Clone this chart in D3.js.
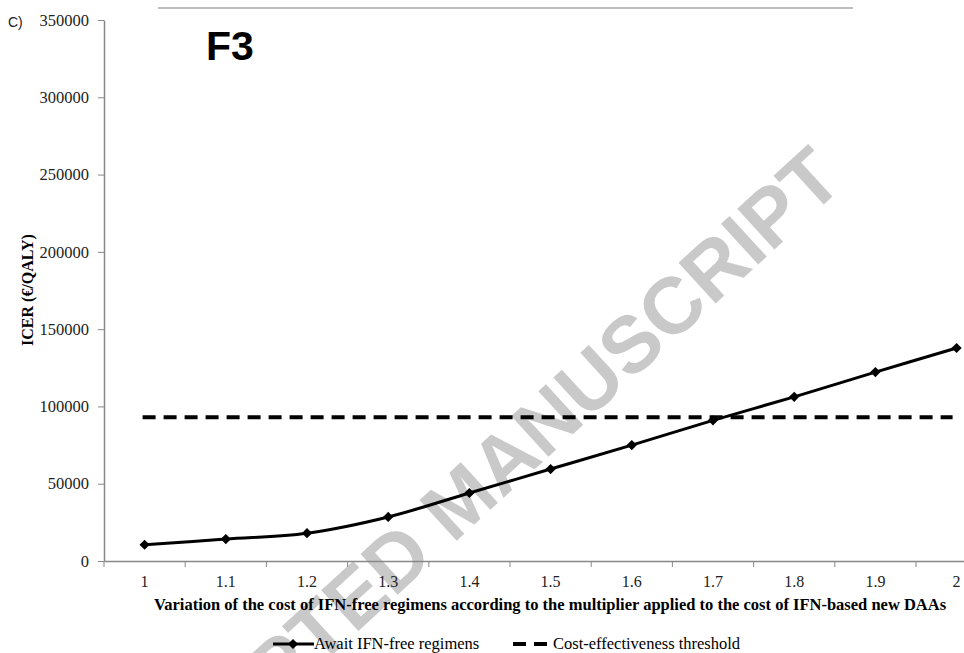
<!DOCTYPE html>
<html>
<head>
<meta charset="utf-8">
<script src="https://cdn.jsdelivr.net/npm/d3@7"></script>
<style>
  body { margin: 0; background: #fff; }
  svg { display: block; }
</style>
</head>
<body>
<div id="vis-container"></div>
<script>
const width = 964,
      height = 653;

// categories on x axis (multiplier)
var multipliers = ["1", "1.1", "1.2", "1.3", "1.4", "1.5", "1.6", "1.7", "1.8", "1.9", "2"];
// ICER values for "Await IFN-free regimens"
var icerValues = [10500, 14200, 18000, 28500, 44000, 59500, 75000, 91000, 106200, 122200, 137800];
// threshold line
var thresholdValue = 93000;
var yTicks = [0, 50000, 100000, 150000, 200000, 250000, 300000, 350000];

var axisLeftX = 104,
    axisBottomY = 561,
    topY = 20;

var svg = d3.select("#vis-container").append("svg")
    .attr("width", width)
    .attr("height", height);

var x = d3.scaleBand().domain(multipliers).range([axisLeftX, axisLeftX + 11 * 81.2]);
var y = d3.scaleLinear().domain([0, 350000]).range([axisBottomY, topY]);
function cx(d) { return x(d) + x.bandwidth() / 2; }

// ******* Watermark *******
svg.append("text")
    .attr("transform", "translate(846,184) rotate(-42.5)")
    .attr("text-anchor", "end")
    .attr("font-family", "Liberation Sans, Arial, sans-serif")
    .attr("font-weight", "bold")
    .attr("font-size", 80)
    .attr("fill", "#c9c9c9")
    .text("ACCEPTED MANUSCRIPT");

// top rule and figure labels
svg.append("line")
    .attr("x1", 158).attr("x2", 853).attr("y1", 8).attr("y2", 8)
    .attr("stroke", "#bdbdbd").attr("stroke-width", 2);
svg.append("text")
    .attr("x", 206).attr("y", 60)
    .attr("font-family", "Liberation Sans, Arial, sans-serif")
    .attr("font-weight", "bold").attr("font-size", 41)
    .text("F3");
svg.append("text")
    .attr("x", 8).attr("y", 27)
    .attr("font-family", "Liberation Sans, sans-serif")
    .attr("font-size", 14).attr("fill", "#222")
    .text("C)");

// ******* Axes *******
var yAxis = svg.append("g")
    .attr("transform", `translate(${axisLeftX} 0)`)
    .call(d3.axisLeft(y).tickValues(yTicks).tickSize(6).tickSizeOuter(0).tickFormat(d3.format("d")));
yAxis.selectAll("text")
    .attr("font-family", "Liberation Serif, serif")
    .attr("font-size", 16.5).attr("fill", "#222").attr("dx", "-6");

var xAxis = svg.append("g")
    .attr("transform", `translate(0 ${axisBottomY})`)
    .call(d3.axisBottom(x).tickSize(0).tickSizeOuter(0));
xAxis.selectAll("text")
    .attr("font-family", "Liberation Serif, serif")
    .attr("font-size", 16).attr("fill", "#222").attr("dy", "1.45em");

// tick marks between categories
var boundaries = multipliers.map(function(d) { return x(d); });
boundaries.push(x.range()[1]);
svg.selectAll(".xtick")
    .data(boundaries)
    .enter()
    .append("line")
    .attr("class", "xtick")
    .attr("x1", function(d) { return d; })
    .attr("x2", function(d) { return d; })
    .attr("y1", axisBottomY)
    .attr("y2", axisBottomY + 6)
    .attr("stroke", "#888");

svg.selectAll(".domain, .tick line").attr("stroke", "#888");
svg.selectAll(".domain").attr("stroke-width", 1.5);

// ******* Threshold *******
svg.append("line")
    .attr("x1", cx(multipliers[0]) - 2)
    .attr("x2", cx(multipliers[multipliers.length - 1]) - 4)
    .attr("y1", y(thresholdValue))
    .attr("y2", y(thresholdValue))
    .attr("stroke", "#000")
    .attr("stroke-width", 4)
    .attr("stroke-dasharray", "13,8");

// ******* Series *******
var line = d3.line()
    .x(function(d, i) { return cx(multipliers[i]); })
    .y(function(d) { return y(d); })
    .curve(d3.curveCatmullRom.alpha(0.5));

svg.append("path")
    .datum(icerValues)
    .attr("d", line)
    .attr("fill", "none")
    .attr("stroke", "#000")
    .attr("stroke-width", 3);

var diamond = d3.symbol().type(d3.symbolSquare).size(52);
svg.selectAll(".pt")
    .data(icerValues)
    .enter()
    .append("path")
    .attr("class", "pt")
    .attr("d", diamond)
    .attr("transform", function(d, i) { return `translate(${cx(multipliers[i])} ${y(d)}) rotate(45)`; })
    .attr("fill", "#000");

// ******* Axis titles *******
svg.append("text")
    .attr("transform", "translate(33 290) rotate(-90)")
    .attr("text-anchor", "middle")
    .attr("font-family", "Liberation Serif, serif")
    .attr("font-weight", "bold").attr("font-size", 16)
    .text("ICER (€/QALY)");

svg.append("text")
    .attr("x", 550).attr("y", 610)
    .attr("text-anchor", "middle")
    .attr("font-family", "Liberation Serif, serif")
    .attr("font-weight", "bold").attr("font-size", 16.5)
    .text("Variation of the cost of IFN-free regimens according to the multiplier applied to the cost of IFN-based new DAAs");

// ******* Legend *******
var legend = svg.append("g").attr("transform", "translate(0 644)");
legend.append("line")
    .attr("x1", 273).attr("x2", 314).attr("y1", 0).attr("y2", 0)
    .attr("stroke", "#000").attr("stroke-width", 3);
legend.append("path")
    .attr("d", diamond)
    .attr("transform", "translate(293 0) rotate(45)");
legend.append("text")
    .attr("x", 314).attr("y", 5)
    .attr("font-family", "Liberation Serif, serif")
    .attr("font-size", 16.5)
    .text("Await IFN-free regimens");
legend.append("line")
    .attr("x1", 513).attr("x2", 547).attr("y1", 0).attr("y2", 0)
    .attr("stroke", "#000").attr("stroke-width", 4)
    .attr("stroke-dasharray", "13,8");
legend.append("text")
    .attr("x", 553).attr("y", 5)
    .attr("font-family", "Liberation Serif, serif")
    .attr("font-size", 16.5)
    .text("Cost-effectiveness threshold");
</script>
</body>
</html>
